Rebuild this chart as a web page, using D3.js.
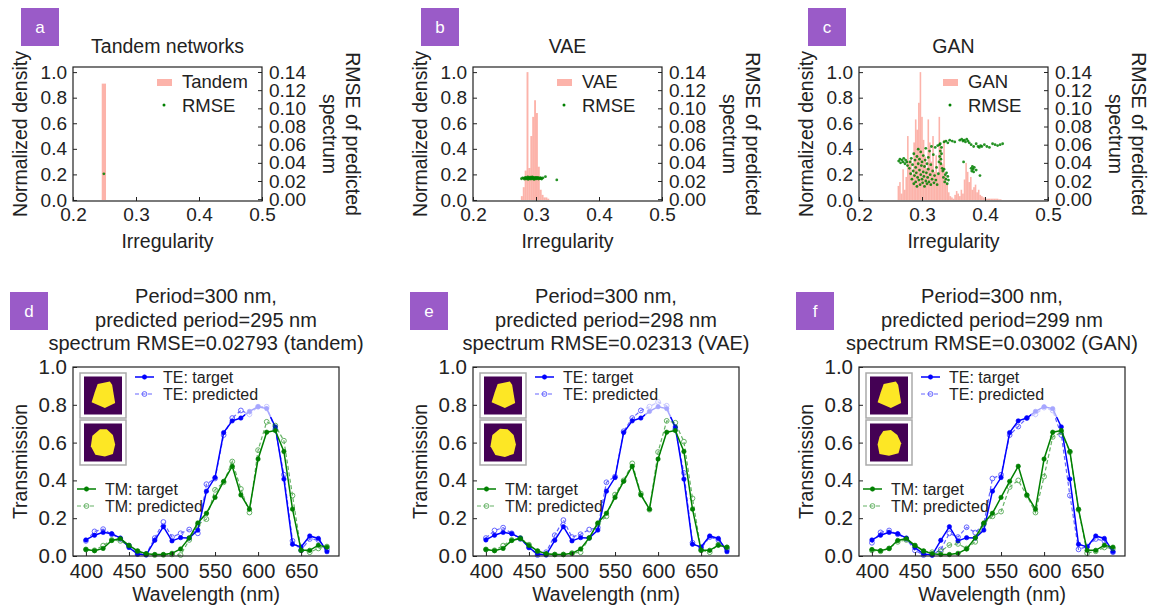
<!DOCTYPE html>
<html>
<head>
<meta charset="utf-8">
<script src="https://d3js.org/d3.v7.min.js"></script>
<style>
body { margin: 0; background: #fff; }
svg { font-family: "Liberation Sans", Arial, sans-serif; }
</style>
</head>
<body>
<svg id="fig" width="1151" height="608"></svg>
<script>
// ---------- top row: irregularity histograms (left axis) + RMSE scatter (right axis)
const tandemIrr = [0.249];
const tandemDensity = [0.91];
const tandemRmse = [[0.249, 0.0279]];

const vaeIrr = [0.2775, 0.2805, 0.2835, 0.2865, 0.2895, 0.2925, 0.2955, 0.2985, 0.3015, 0.3045, 0.3075, 0.3105, 0.3135, 0.3165, 0.3195];
const vaeDensity = [0.03, 0.10, 0.23, 1.00, 0.25, 0.50, 0.65, 0.78, 0.68, 0.26, 0.08, 0.04, 0.02, 0.02, 0.01];
const vaeRmse = [
  [0.277,0.0225],[0.279,0.0235],[0.281,0.0230],[0.282,0.0220],[0.283,0.0240],[0.284,0.0228],[0.285,0.0236],
  [0.286,0.0222],[0.287,0.0244],[0.288,0.0231],[0.288,0.0219],[0.289,0.0238],[0.290,0.0226],[0.291,0.0242],
  [0.291,0.0233],[0.292,0.0221],[0.293,0.0237],[0.293,0.0229],[0.294,0.0245],[0.295,0.0224],[0.295,0.0234],
  [0.296,0.0240],[0.297,0.0227],[0.297,0.0218],[0.298,0.0236],[0.299,0.0230],[0.300,0.0241],[0.300,0.0223],
  [0.301,0.0233],[0.302,0.0227],[0.303,0.0239],[0.304,0.0221],[0.305,0.0232],[0.306,0.0226],[0.307,0.0236],
  [0.308,0.0229],[0.309,0.0222],[0.311,0.0234],[0.315,0.0248],[0.333,0.0212]
];

const ganIrr = [0.2625,0.2650,0.2675,0.2700,0.2725,0.2750,0.2775,0.2800,0.2825,0.2850,0.2875,0.2900,0.2925,0.2950,
  0.2975,0.3000,0.3025,0.3050,0.3075,0.3100,0.3125,0.3150,0.3175,0.3200,0.3225,0.3250,0.3275,0.3300,0.3325,0.3350,
  0.3375,0.3400,0.3425,0.3450,0.3475,0.3500,0.3525,0.3550,0.3575,0.3600,0.3625,0.3650,0.3675,0.3700,0.3725,0.3750,
  0.3775,0.3800,0.3825,0.3850,0.3875,0.3900,0.3925,0.3950,0.3975,0.4000,0.4025,0.4050,0.4075,0.4100,0.4125,0.4150,
  0.4175,0.4200,0.4225,0.4250];
const ganDensity = [0.11,0.14,0.05,0.24,0.08,0.18,0.50,0.30,0.32,0.20,0.45,0.63,0.55,0.76,
  1.00,0.65,0.47,0.34,0.25,0.63,0.45,0.30,0.50,0.22,0.35,0.20,0.65,0.42,0.28,0.47,
  0.19,0.12,0.06,0.03,0.02,0.01,0.04,0.07,0.05,0.03,0.08,0.05,0.16,0.29,0.22,0.14,
  0.18,0.08,0.10,0.12,0.06,0.08,0.04,0.03,0.02,0.02,0.01,0.01,0.01,0.01,0.01,0.01,
  0.01,0.01,0.005,0.005];
const ganRmse = [
  [0.263,0.042],[0.265,0.044],[0.266,0.040],[0.268,0.043],[0.270,0.041],[0.271,0.045],[0.273,0.039],[0.274,0.043],
  [0.276,0.041],[0.277,0.037],
  [0.280,0.034],[0.281,0.041],[0.282,0.028],[0.283,0.045],[0.284,0.022],[0.285,0.038],[0.286,0.031],[0.287,0.017],
  [0.287,0.050],[0.288,0.026],[0.289,0.043],[0.290,0.019],[0.290,0.035],[0.291,0.029],[0.292,0.047],[0.292,0.014],
  [0.293,0.024],[0.294,0.039],[0.294,0.055],[0.295,0.021],[0.296,0.032],[0.296,0.044],[0.297,0.016],[0.298,0.027],
  [0.298,0.052],[0.299,0.037],[0.300,0.022],[0.300,0.041],[0.301,0.018],[0.302,0.030],[0.302,0.048],[0.303,0.025],
  [0.304,0.036],[0.304,0.014],[0.305,0.043],[0.306,0.020],[0.306,0.056],[0.307,0.029],[0.308,0.017],[0.308,0.039],
  [0.309,0.024],[0.310,0.046],[0.310,0.033],[0.311,0.019],[0.312,0.053],[0.313,0.027],[0.314,0.016],[0.314,0.038],
  [0.315,0.058],[0.316,0.022],[0.317,0.031],[0.318,0.049],[0.319,0.018],[0.320,0.026],[0.321,0.057],[0.322,0.021],
  [0.323,0.035],[0.324,0.016],[0.325,0.059],[0.326,0.028],
  [0.328,0.047],[0.329,0.053],[0.329,0.061],[0.330,0.039],[0.330,0.044],[0.331,0.050],[0.331,0.057],[0.332,0.034],
  [0.327,0.041],[0.328,0.060],
  [0.333,0.031],[0.334,0.024],[0.335,0.033],[0.336,0.019],[0.337,0.027],[0.338,0.022],[0.339,0.029],[0.340,0.017],
  [0.341,0.025],[0.342,0.021],
  [0.335,0.063],[0.338,0.064],[0.341,0.062],[0.344,0.065],[0.348,0.064],[0.352,0.063],[0.360,0.065],[0.363,0.066],
  [0.365,0.064],[0.367,0.065],[0.369,0.063],[0.371,0.066],[0.373,0.064],[0.375,0.062],[0.378,0.060],[0.382,0.058],
  [0.386,0.061],[0.389,0.058],[0.391,0.057],[0.393,0.059],[0.395,0.058],[0.399,0.060],[0.403,0.058],[0.407,0.057],
  [0.412,0.061],[0.416,0.060],[0.420,0.059],[0.424,0.060],[0.428,0.061],
  [0.366,0.041],[0.378,0.034],[0.379,0.031],[0.380,0.036],[0.381,0.033],[0.382,0.030],[0.383,0.035],[0.386,0.032],
  [0.392,0.026]
];

// ---------- bottom row: spectra
const wavelengths = [400,410,420,430,440,450,460,470,480,490,500,510,520,530,540,550,560,570,580,590,600,610,620,630,640,650,660,670,680];
const teTarget = [0.085,0.11,0.125,0.118,0.095,0.045,0.01,0.005,0.083,0.155,0.08,0.097,0.095,0.137,0.343,0.415,0.653,0.715,0.73,0.765,0.79,0.78,0.683,0.407,0.062,0.048,0.106,0.093,0.023];
const tmTarget = [0.034,0.028,0.04,0.082,0.092,0.056,0.027,0.012,0.008,0.008,0.014,0.037,0.096,0.175,0.226,0.31,0.395,0.475,0.323,0.248,0.513,0.655,0.664,0.553,0.248,0.03,0.03,0.057,0.047];
const teTandem = [0.08,0.13,0.142,0.115,0.09,0.055,0.01,0.01,0.095,0.18,0.10,0.12,0.14,0.12,0.38,0.41,0.64,0.73,0.77,0.75,0.79,0.79,0.67,0.43,0.08,0.03,0.09,0.085,0.035];
const tmTandem = [0.035,0.03,0.055,0.085,0.08,0.055,0.025,0.01,0.005,0.006,0.008,0.005,0.085,0.165,0.195,0.35,0.39,0.50,0.355,0.23,0.56,0.71,0.69,0.61,0.32,0.03,0.02,0.04,0.05];
const teVae = [0.095,0.135,0.15,0.12,0.09,0.045,0.005,0.02,0.11,0.19,0.10,0.115,0.14,0.15,0.39,0.42,0.66,0.73,0.77,0.79,0.815,0.795,0.67,0.44,0.07,0.04,0.10,0.085,0.035];
const tmVae = [0.035,0.03,0.055,0.085,0.095,0.06,0.025,0.01,0.008,0.008,0.015,0.02,0.095,0.17,0.21,0.325,0.40,0.49,0.33,0.245,0.55,0.715,0.705,0.605,0.305,0.03,0.02,0.06,0.045];
const teGan = [0.07,0.125,0.135,0.115,0.09,0.03,0.005,0.005,0.035,0.12,0.10,0.152,0.124,0.17,0.41,0.43,0.64,0.685,0.73,0.75,0.785,0.77,0.64,0.32,0.035,0.05,0.09,0.08,0.02];
const tmGan = [0.03,0.025,0.04,0.075,0.085,0.055,0.025,0.02,0.025,0.058,0.064,0.04,0.075,0.17,0.21,0.235,0.365,0.40,0.32,0.23,0.42,0.63,0.655,0.55,0.245,0.015,0.025,0.045,0.04];

// inset shapes (fractions of the image square): target shape, predicted shape
const targetShape = [[0.36,0.2],[0.68,0.13],[0.74,0.22],[0.82,0.7],[0.55,0.83],[0.2,0.68],[0.28,0.42]];
const tandemShape = [[0.42,0.15],[0.6,0.15],[0.76,0.3],[0.82,0.55],[0.76,0.8],[0.55,0.87],[0.3,0.82],[0.18,0.6],[0.22,0.32]];
const vaeShape = [[0.42,0.14],[0.62,0.15],[0.78,0.3],[0.84,0.55],[0.78,0.8],[0.55,0.88],[0.3,0.83],[0.17,0.6],[0.22,0.3]];
const ganShape = [[0.35,0.2],[0.55,0.17],[0.72,0.3],[0.82,0.52],[0.75,0.78],[0.5,0.85],[0.25,0.8],[0.2,0.55],[0.25,0.35]];

const svg = d3.select("#fig");
svg.append("rect").attr("width", 1151).attr("height", 608).attr("fill", "#fff");

const ink = "#222";
const purple = "#9a5bc8";

function panelLetter(x, y, letter) {
    svg.append("rect").attr("x", x).attr("y", y).attr("width", 38).attr("height", 38).attr("fill", purple);
    svg.append("text").attr("x", x + 19).attr("y", y + 25).attr("text-anchor", "middle")
        .attr("fill", "#fff").style("font-size", "17px").text(letter);
}

function styleAxis(sel, size) {
    sel.attr("font-family", null).attr("font-size", null);
    sel.select(".domain").remove();
    sel.selectAll("text").attr("fill", ink).style("font-size", size + "px");
    sel.selectAll("line").attr("stroke", ink);
}

function histPanel(p) {
    let w = 189, h = 134, top = 67;
    let g = svg.append("g").attr("transform", "translate(" + p.left + "," + top + ")");

    let x = d3.scaleLinear().domain([0.2, 0.5]).range([0, w]),
        y = d3.scaleLinear().domain([-0.008, 1.04]).range([h, 0]),
        y2 = d3.scaleLinear().domain([-0.002, 0.1455]).range([h, 0]);

    g.selectAll(".bar").data(p.irr).enter().append("rect")
        .attr("class", "bar")
        .attr("x", function(d) { return x(d - p.binWidth / 2); })
        .attr("width", x(p.binWidth) - x(0))
        .attr("y", function(d, i) { return y(p.density[i]); })
        .attr("height", function(d, i) { return y(0) - y(p.density[i]); })
        .attr("fill", "salmon").attr("fill-opacity", 0.6);

    g.selectAll(".dot").data(p.rmse).enter().append("circle")
        .attr("class", "dot")
        .attr("cx", function(d) { return x(d[0]); })
        .attr("cy", function(d) { return y2(d[1]); })
        .attr("r", 1.4)
        .attr("fill", "green").attr("fill-opacity", 0.85);

    g.append("g").attr("transform", "translate(0," + h + ")")
        .call(d3.axisBottom(x).tickValues([0.2, 0.3, 0.4, 0.5]).tickFormat(d3.format(".1f")).tickSize(-4).tickPadding(7))
        .call(styleAxis, 19);
    g.append("g")
        .call(d3.axisLeft(y).tickValues([0, 0.2, 0.4, 0.6, 0.8, 1.0]).tickFormat(d3.format(".1f")).tickSize(-4).tickPadding(6))
        .call(styleAxis, 19);
    g.append("g").attr("transform", "translate(" + w + ",0)")
        .call(d3.axisRight(y2).tickValues([0, 0.02, 0.04, 0.06, 0.08, 0.10, 0.12, 0.14]).tickFormat(d3.format(".2f")).tickSize(-4).tickPadding(7))
        .call(styleAxis, 19);

    g.append("rect").attr("width", w).attr("height", h)
        .attr("fill", "none").attr("stroke", ink).attr("stroke-width", 1.2);

    // legend
    g.append("rect").attr("x", w - 105).attr("y", 12).attr("width", 15).attr("height", 7)
        .attr("fill", "salmon").attr("fill-opacity", 0.6);
    g.append("text").attr("x", w - 80).attr("y", 21).attr("fill", ink).style("font-size", "18.5px").text(p.name);
    g.append("circle").attr("cx", w - 98).attr("cy", 38).attr("r", 1.5).attr("fill", "green");
    g.append("text").attr("x", w - 80).attr("y", 45).attr("fill", ink).style("font-size", "18.5px").text("RMSE");

    // titles and labels
    g.append("text").attr("x", w / 2).attr("y", -14).attr("text-anchor", "middle")
        .attr("fill", ink).style("font-size", "19.5px").text(p.title);
    g.append("text").attr("x", w / 2).attr("y", h + 47).attr("text-anchor", "middle")
        .attr("fill", ink).style("font-size", "19.5px").text("Irregularity");
    g.append("text").attr("transform", "translate(-46," + (h / 2) + ") rotate(-90)")
        .attr("text-anchor", "middle").attr("fill", ink).style("font-size", "19.5px").text("Normalized density");
    g.append("text").attr("transform", "translate(" + (w + 84) + "," + (h / 2) + ") rotate(90)")
        .attr("text-anchor", "middle").attr("fill", ink).style("font-size", "19.5px").text("RMSE of predicted");
    g.append("text").attr("transform", "translate(" + (w + 61) + "," + (h / 2) + ") rotate(90)")
        .attr("text-anchor", "middle").attr("fill", ink).style("font-size", "19.5px").text("spectrum");
}

function drawSeries(g, x, y, values, color, predicted) {
    let pts = wavelengths.map(function(wl, i) { return [wl, values[i]]; });
    let line = d3.line().x(function(d) { return x(d[0]); }).y(function(d) { return y(d[1]); });
    let s = g.append("g").attr("opacity", predicted ? 0.6 : 1);
    s.append("path").attr("d", line(pts))
        .attr("fill", "none").attr("stroke", color)
        .attr("stroke-width", predicted ? 1.2 : 1.5)
        .attr("stroke-dasharray", predicted ? "4,2.5" : null);
    s.selectAll("circle").data(pts).enter().append("circle")
        .attr("cx", function(d) { return x(d[0]); })
        .attr("cy", function(d) { return y(d[1]); })
        .attr("r", predicted ? 2.4 : 2.2)
        .attr("fill", predicted ? "none" : color)
        .attr("stroke", color).attr("stroke-width", predicted ? 1 : 0.6);
}

function legendRow(g, x0, yy, color, predicted, label) {
    let s = g.append("g").attr("opacity", predicted ? 0.6 : 1);
    s.append("line").attr("x1", x0).attr("x2", x0 + 19).attr("y1", yy).attr("y2", yy)
        .attr("stroke", color).attr("stroke-width", predicted ? 1.2 : 1.5)
        .attr("stroke-dasharray", predicted ? "4,2.5" : null);
    s.append("circle").attr("cx", x0 + 9.5).attr("cy", yy).attr("r", predicted ? 2.4 : 2.2)
        .attr("fill", predicted ? "none" : color).attr("stroke", color).attr("stroke-width", predicted ? 1 : 0.6);
    g.append("text").attr("x", x0 + 28).attr("y", yy + 5.5).attr("fill", ink)
        .style("font-size", "16px").text(label);
}

function inset(g, x0, y0, shape) {
    g.append("rect").attr("x", x0).attr("y", y0).attr("width", 46).attr("height", 45)
        .attr("fill", "#fff").attr("stroke", "#aaa").attr("stroke-width", 1.5);
    let s = d3.scaleLinear().domain([0, 1]).range([x0 + 4, x0 + 42]);
    let t = d3.scaleLinear().domain([0, 1]).range([y0 + 3.5, y0 + 41.5]);
    g.append("rect").attr("x", s(0)).attr("y", t(0)).attr("width", s(1) - s(0)).attr("height", t(1) - t(0))
        .attr("fill", "#440154");
    g.append("path")
        .attr("d", d3.line().x(function(d) { return s(d[0]); }).y(function(d) { return t(d[1]); })
            .curve(d3.curveLinearClosed)(shape))
        .attr("fill", "#fde725");
}

function spectrumPanel(p) {
    let w = 266, h = 189, top = 367;
    let g = svg.append("g").attr("transform", "translate(" + p.left + "," + top + ")");

    let x = d3.scaleLinear().domain([385, 694]).range([0, w]),
        y = d3.scaleLinear().domain([0, 1]).range([h, 0]);

    drawSeries(g, x, y, p.tePred, "blue", true);
    drawSeries(g, x, y, teTarget, "blue", false);
    drawSeries(g, x, y, p.tmPred, "green", true);
    drawSeries(g, x, y, tmTarget, "green", false);

    // washed-out patch near the TE peak
    g.append("rect").attr("x", x(585)).attr("y", y(1)).attr("width", x(617) - x(585)).attr("height", y(0.735) - y(1))
        .attr("fill", "#fff").attr("fill-opacity", 0.65);

    g.append("g").attr("transform", "translate(0," + h + ")")
        .call(d3.axisBottom(x).tickValues([400, 450, 500, 550, 600, 650]).tickSize(-4).tickPadding(7.5))
        .call(styleAxis, 20);
    g.append("g")
        .call(d3.axisLeft(y).tickValues([0, 0.2, 0.4, 0.6, 0.8, 1.0]).tickFormat(d3.format(".1f")).tickSize(-4).tickPadding(6))
        .call(styleAxis, 20.5);
    g.append("rect").attr("width", w).attr("height", h)
        .attr("fill", "none").attr("stroke", ink).attr("stroke-width", 1.2);

    inset(g, 7, 6, targetShape);
    inset(g, 7, 53, p.shape);

    legendRow(g, 62, 10, "blue", false, "TE: target");
    legendRow(g, 62, 27, "blue", true, "TE: predicted");
    legendRow(g, 4, 122, "green", false, "TM: target");
    legendRow(g, 4, 139, "green", true, "TM: predicted");

    p.title.forEach(function(line, i) {
        g.append("text").attr("x", w / 2).attr("y", -64 + i * 23.5).attr("text-anchor", "middle")
            .attr("fill", ink).style("font-size", "20px").text(line);
    });
    g.append("text").attr("x", w / 2).attr("y", h + 44.5).attr("text-anchor", "middle")
        .attr("fill", ink).style("font-size", "19.5px").text("Wavelength (nm)");
    g.append("text").attr("transform", "translate(-46," + (h / 2) + ") rotate(-90)")
        .attr("text-anchor", "middle").attr("fill", ink).style("font-size", "19.5px").text("Transmission");
}

histPanel({left: 73, title: "Tandem networks", name: "Tandem", irr: tandemIrr, density: tandemDensity, binWidth: 0.0068, rmse: tandemRmse});
histPanel({left: 473, title: "VAE", name: "VAE", irr: vaeIrr, density: vaeDensity, binWidth: 0.003, rmse: vaeRmse});
histPanel({left: 859, title: "GAN", name: "GAN", irr: ganIrr, density: ganDensity, binWidth: 0.0025, rmse: ganRmse});

spectrumPanel({left: 73, tePred: teTandem, tmPred: tmTandem, shape: tandemShape,
    title: ["Period=300 nm,", "predicted period=295 nm", "spectrum RMSE=0.02793 (tandem)"]});
spectrumPanel({left: 473, tePred: teVae, tmPred: tmVae, shape: vaeShape,
    title: ["Period=300 nm,", "predicted period=298 nm", "spectrum RMSE=0.02313 (VAE)"]});
spectrumPanel({left: 859, tePred: teGan, tmPred: tmGan, shape: ganShape,
    title: ["Period=300 nm,", "predicted period=299 nm", "spectrum RMSE=0.03002 (GAN)"]});

panelLetter(21, 8, "a");
panelLetter(421, 8, "b");
panelLetter(808, 8, "c");
panelLetter(10, 292, "d");
panelLetter(410, 292, "e");
panelLetter(796, 292, "f");
</script>
</body>
</html>
